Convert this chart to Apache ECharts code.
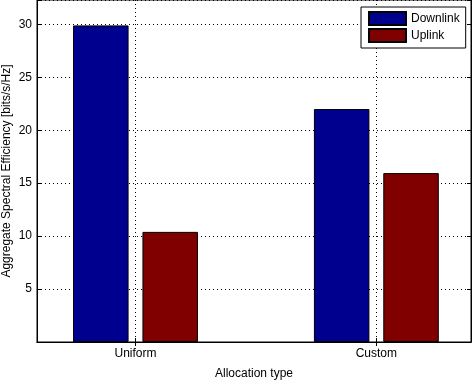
<!DOCTYPE html>
<html>
<head>
<meta charset="utf-8">
<script src="https://cdn.jsdelivr.net/npm/echarts@6/dist/echarts.min.js"></script>
<style>html,body{margin:0;padding:0;background:#fff}#c{width:472px;height:380px}</style>
</head>
<body>
<div id="c"></div>
<script>
var categories = ['Uniform', 'Custom'];
var categoryPositions = [1, 2];
var downlink = [29.9, 22.0];
var uplink = [10.4, 15.95];
var seriesNames = ['Downlink', 'Uplink'];
var yTickValues = [5, 10, 15, 20, 25, 30];

var FONT = 'Liberation Sans';
var chart = echarts.init(document.getElementById('c'), null, {renderer: 'canvas'});

function pairs(vals) {
  return vals.map(function (v, i) { return [categoryPositions[i], v]; });
}

var option = {
  animation: false,
  backgroundColor: '#fff',
  textStyle: {fontFamily: FONT},
  grid: {left: 37, right: 1, top: 0, bottom: 38, outerBoundsMode: 'none', containLabel: false,
         show: true, borderColor: '#000', borderWidth: 1, backgroundColor: 'transparent'},
  legend: {
    orient: 'vertical',
    left: 361, top: 7,
    padding: [4, 6, 5, 7],
    itemGap: 2,
    itemWidth: 37, itemHeight: 13,
    backgroundColor: '#fff',
    borderColor: '#000', borderWidth: 1,
    icon: 'rect',
    textStyle: {fontFamily: FONT, fontSize: 12, color: '#000'},
    data: seriesNames
  },
  xAxis: [{
    type: 'value',
    min: 0.591, max: 2.393,
    name: 'Allocation type',
    nameLocation: 'middle',
    nameGap: 26,
    nameTextStyle: {fontFamily: FONT, fontSize: 12, color: '#000'},
    axisLine: {show: true, lineStyle: {color: '#000', width: 1}},
    axisTick: {show: true, inside: true, length: 4, customValues: categoryPositions, lineStyle: {color: '#000'}},
    axisLabel: {
      customValues: categoryPositions,
      margin: 6,
      fontFamily: FONT, fontSize: 12, color: '#000',
      formatter: function (v) { var i = categoryPositions.indexOf(Math.round(v)); return i >= 0 ? categories[i] : ''; }
    },
    splitLine: {show: true, lineStyle: {color: '#000', width: 1, type: [1, 3]}}
  }, {
    type: 'value', position: 'top',
    min: 0.591, max: 2.393,
    axisLine: {show: true, lineStyle: {color: '#000'}},
    axisTick: {show: true, inside: true, length: 4, customValues: categoryPositions, lineStyle: {color: '#000'}},
    axisLabel: {show: false},
    splitLine: {show: false}
  }],
  yAxis: [{
    type: 'value',
    min: 0, max: 32.3, interval: 5,
    name: 'Aggregate Spectral Efficiency [bits/s/Hz]',
    nameLocation: 'middle',
    nameGap: 24,
    nameMoveOverlap: false,
    nameTextStyle: {fontFamily: FONT, fontSize: 12, color: '#000'},
    axisLine: {show: true, lineStyle: {color: '#000'}},
    axisTick: {show: true, inside: true, length: 4, lineStyle: {color: '#000'}},
    axisLabel: {
      margin: 5, fontFamily: FONT, fontSize: 12, color: '#000',
      formatter: function (v) { return yTickValues.indexOf(v) >= 0 ? String(v) : ''; }
    },
    splitLine: {show: true, lineStyle: {color: '#000', width: 1, type: [1, 3]}}
  }, {
    type: 'value', position: 'right',
    min: 0, max: 32.3, interval: 5,
    axisLine: {show: true, lineStyle: {color: '#000'}},
    axisTick: {show: true, inside: true, length: 4, lineStyle: {color: '#000'}},
    axisLabel: {show: false},
    splitLine: {show: false}
  }],
  series: [{
    name: seriesNames[0],
    type: 'bar',
    xAxisIndex: 0, yAxisIndex: 0,
    barWidth: 55.5,
    barGap: '25%',
    itemStyle: {color: '#00008F', borderColor: '#000', borderWidth: 1},
    data: pairs(downlink)
  }, {
    name: seriesNames[1],
    type: 'bar',
    xAxisIndex: 0, yAxisIndex: 0,
    barWidth: 55.5,
    barGap: '25%',
    itemStyle: {color: '#800000', borderColor: '#000', borderWidth: 1},
    data: pairs(uplink)
  }]
};
chart.setOption(option);
</script>
</body>
</html>
